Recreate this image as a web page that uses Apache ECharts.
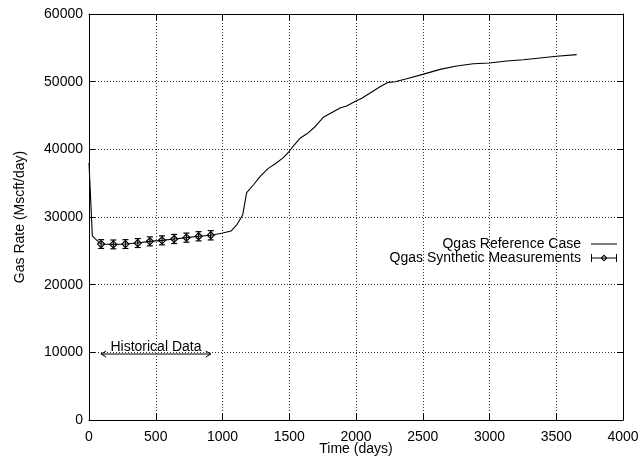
<!DOCTYPE html>
<html>
<head>
<meta charset="utf-8">
<script src="https://cdn.jsdelivr.net/npm/echarts@6/dist/echarts.min.js"></script>
<style>
  html, body { margin: 0; padding: 0; background: #fff; }
  #chart { width: 639px; height: 457px; }
</style>
</head>
<body>
<div id="chart"></div>
<script>
// Reference-case simulated gas rate (days, Mscf/day)
const refDays = [0, 25, 45, 70, 91, 182, 273, 365, 456, 547, 638, 730, 821, 912,
  994, 1064, 1106, 1151, 1181, 1231, 1281, 1343, 1393, 1456, 1498, 1530, 1580,
  1630, 1693, 1755, 1830, 1880, 1930, 2000, 2043, 2130, 2180, 2242, 2292, 2380,
  2500, 2630, 2754, 2879, 2999, 3129, 3253, 3378, 3503, 3653];
const refRate = [38000, 27200, 26800, 26350, 26000, 25950, 26000, 26150, 26400,
  26550, 26750, 26950, 27150, 27300, 27590, 27930, 28820, 30290, 33590, 34730,
  35960, 37190, 37830, 38770, 39650, 40490, 41630, 42260, 43340, 44730, 45560,
  46100, 46400, 47140, 47540, 48620, 49260, 49900, 49990, 50440, 51080, 51820,
  52310, 52650, 52760, 53050, 53250, 53500, 53750, 53990];

// Synthetic measurements with their error bars
const measDays = [91, 182, 273, 365, 456, 547, 638, 730, 821, 912];
const measRate = [26000, 25950, 26000, 26150, 26400, 26550, 26750, 26950, 27150, 27300];
const measErr  = [650, 650, 650, 655, 660, 665, 670, 675, 680, 685];

// Historical-data window annotation
const histStart = 91;
const histEnd = 912;
const histLevel = 9750;
const histText = 'Historical Data';

const xTicks = { min: 0, max: 4000, interval: 500 };
const yTicks = { min: 0, max: 60000, interval: 10000 };

const REF_NAME = 'Qgas Reference Case';
const MEAS_NAME = 'Qgas Synthetic Measurements';
const FONT = '"Liberation Sans", Arial, Helvetica, sans-serif';
const FS = 14;

const refData = refDays.map((d, i) => [d, refRate[i]]);
const measData = measDays.map((d, i) => [d, measRate[i], measErr[i]]);

const plain = v => String(v);
const gridStyle = () => ({ type: [1, 2], color: '#333', width: 1 });
const frameLine = () => ({ show: true, onZero: false, lineStyle: { color: '#000', width: 1 } });
const inTick = () => ({ show: true, inside: true, length: 6, lineStyle: { color: '#000', width: 1 } });

const chart = echarts.init(document.getElementById('chart'), null, { renderer: 'canvas' });

const legendBase = () => ({
  orient: 'vertical',
  align: 'right',
  right: 22,
  padding: 0,
  itemWidth: 26,
  itemHeight: 8,
  selectedMode: false,
  textStyle: { fontSize: FS, fontFamily: FONT, color: '#000', padding: [0, 5, 0, 0] }
});

chart.setOption({
  animation: false,
  backgroundColor: '#fff',
  textStyle: { fontFamily: FONT },
  grid: { left: 89, right: 16, top: 14, bottom: 37, containLabel: false, outerBoundsMode: 'none' },
  legend: [
    Object.assign(legendBase(), {
      top: 237,
      data: [{ name: REF_NAME, icon: 'path://M0,3.5h26v1h-26z' }]
    }),
    Object.assign(legendBase(), {
      top: 251,
      data: [{
        name: MEAS_NAME,
        icon: 'path://M0,0h1v8h-1zM25,0h1v8h-1zM1,3.5h24v1h-24zM13,0.5L16.5,4L13,7.5L9.5,4zM13,1.9L11.1,4L13,6.1L14.9,4z'
      }]
    })
  ],
  xAxis: [
    {
      type: 'value', position: 'bottom',
      min: xTicks.min, max: xTicks.max, interval: xTicks.interval,
      name: 'Time (days)', nameLocation: 'middle', nameGap: 22, nameMoveOverlap: false,
      nameTextStyle: { fontSize: FS, color: '#000', fontFamily: FONT },
      axisLine: frameLine(), axisTick: inTick(),
      axisLabel: { fontSize: FS, color: '#000', fontFamily: FONT, margin: 10, formatter: plain },
      splitLine: { show: true, lineStyle: gridStyle() }
    },
    {
      type: 'value', position: 'top',
      min: xTicks.min, max: xTicks.max, interval: xTicks.interval,
      axisLine: frameLine(), axisTick: inTick(),
      axisLabel: { show: false }, splitLine: { show: false }
    }
  ],
  yAxis: [
    {
      type: 'value', position: 'left',
      min: yTicks.min, max: yTicks.max, interval: yTicks.interval,
      name: 'Gas Rate (Mscft/day)', nameLocation: 'middle', nameGap: 62, nameRotate: 90,
      nameMoveOverlap: false,
      nameTextStyle: { fontSize: FS, color: '#000', fontFamily: FONT },
      axisLine: frameLine(), axisTick: inTick(),
      axisLabel: { fontSize: FS, color: '#000', fontFamily: FONT, margin: 6, formatter: plain },
      splitLine: { show: true, lineStyle: gridStyle() }
    },
    {
      type: 'value', position: 'right',
      min: yTicks.min, max: yTicks.max, interval: yTicks.interval,
      axisLine: frameLine(), axisTick: inTick(),
      axisLabel: { show: false }, splitLine: { show: false }
    }
  ],
  series: [
    {
      name: REF_NAME,
      type: 'line',
      data: refData,
      symbol: 'none',
      showSymbol: false,
      smooth: false,
      itemStyle: { color: '#000' },
      lineStyle: { color: '#000', width: 1.1 },
      z: 3
    },
    {
      name: MEAS_NAME,
      type: 'custom',
      data: measData,
      encode: { x: 0, y: 1 },
      itemStyle: { color: '#000' },
      z: 4,
      renderItem: function (params, api) {
        const x = api.value(0), y = api.value(1), e = api.value(2);
        const c = api.coord([x, y]);
        const hi = api.coord([x, y + e]);
        const lo = api.coord([x, y - e]);
        const cap = 3, d = 3.5;
        const st = { stroke: '#000', lineWidth: 1.2, fill: null };
        return {
          type: 'group',
          children: [
            { type: 'line', shape: { x1: c[0], y1: hi[1], x2: c[0], y2: lo[1] }, style: st },
            { type: 'line', shape: { x1: c[0] - cap, y1: hi[1], x2: c[0] + cap, y2: hi[1] }, style: st },
            { type: 'line', shape: { x1: c[0] - cap, y1: lo[1], x2: c[0] + cap, y2: lo[1] }, style: st },
            {
              type: 'polygon',
              shape: { points: [[c[0], c[1] - d], [c[0] + d, c[1]], [c[0], c[1] + d], [c[0] - d, c[1]]] },
              style: { stroke: '#000', lineWidth: 1.2, fill: 'rgba(255,255,255,0)' }
            }
          ]
        };
      }
    },
    {
      type: 'custom',
      data: [[histStart, histEnd, histLevel]],
      encode: { x: [0, 1], y: 2 },
      silent: true,
      z: 5,
      renderItem: function (params, api) {
        const a = api.coord([api.value(0), api.value(2)]);
        const b = api.coord([api.value(1), api.value(2)]);
        const h = 5, w = 3;
        const st = { stroke: '#000', lineWidth: 1, fill: null };
        return {
          type: 'group',
          children: [
            { type: 'line', shape: { x1: a[0], y1: a[1], x2: b[0], y2: b[1] }, style: st },
            { type: 'polyline', shape: { points: [[a[0] + h, a[1] - w], [a[0], a[1]], [a[0] + h, a[1] + w]] }, style: st },
            { type: 'polyline', shape: { points: [[b[0] - h, b[1] - w], [b[0], b[1]], [b[0] - h, b[1] + w]] }, style: st },
            {
              type: 'text',
              style: {
                text: histText, x: (a[0] + b[0]) / 2, y: a[1],
                align: 'center', verticalAlign: 'bottom',
                fontSize: FS, fontFamily: FONT, fill: '#000'
              }
            }
          ]
        };
      }
    }
  ]
});
</script>
</body>
</html>
